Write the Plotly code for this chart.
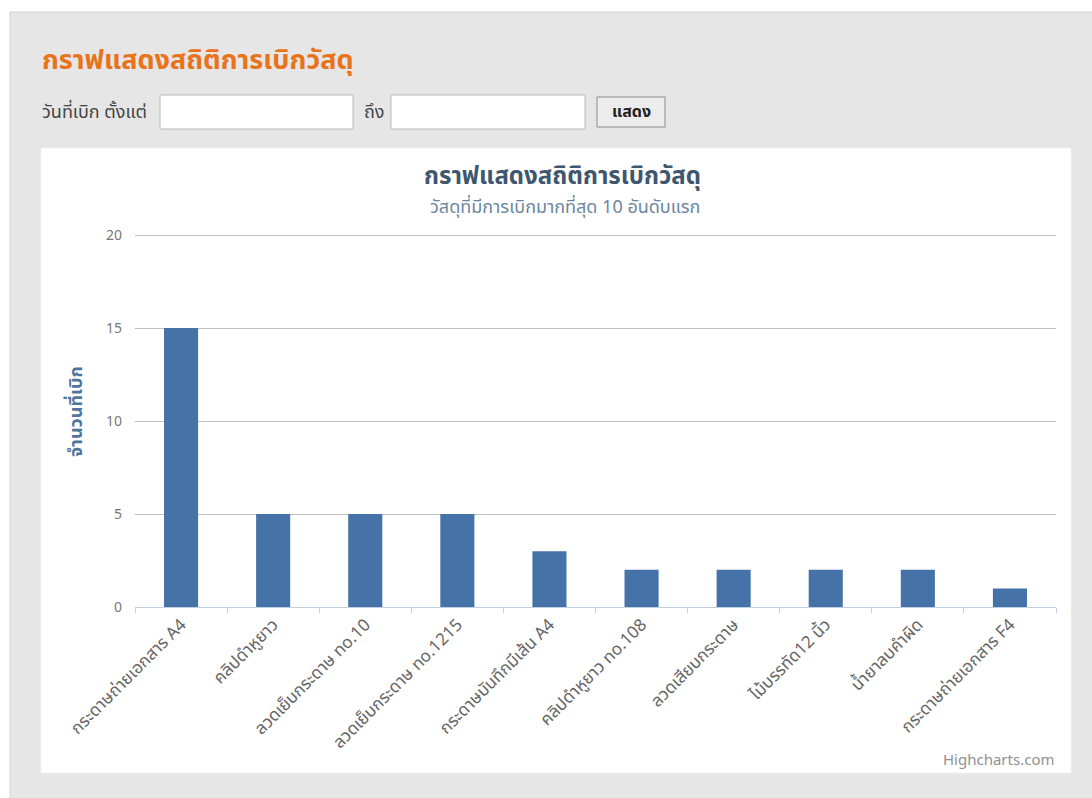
import plotly.graph_objects as go

# ---- data ----
categories = [
    "กระดาษถ่ายเอกสาร A4",
    "คลิปดำหูยาว",
    "ลวดเย็บกระดาษ no.10",
    "ลวดเย็บกระดาษ no.1215",
    "กระดาษบันทึกมีเส้น A4",
    "คลิปดำหูยาว no.108",
    "ลวดเสียบกระดาษ",
    "ไม้บรรทัด12 นิ้ว",
    "น้ำยาลบคำผิด",
    "กระดาษถ่ายเอกสาร F4",
]
values = [15, 5, 5, 5, 3, 2, 2, 2, 2, 1]
y_ticks = [0, 5, 10, 15, 20]

page_title = "กราฟแสดงสถิติการเบิกวัสดุ"
chart_title = "กราฟแสดงสถิติการเบิกวัสดุ"
chart_subtitle = "วัสดุที่มีการเบิกมากที่สุด 10 อันดับแรก"
y_title = "จำนวนที่เบิก"

W, H = 1092, 798
L, R, T, B = 135, 1056, 229, 607     # plot area in pixels (T leaves room above the 20 gridline)
Y20 = 235                            # pixel row of the 20 gridline
Y_MAX = 20 * (B - T) / (B - Y20)
FONT = "Tahoma, 'Noto Sans Thai', 'Noto Sans', sans-serif"


def px(x):
    return (x - L) / (R - L)


def py(y):
    return (B - y) / (B - T)


fig = go.Figure(
    go.Bar(
        x=categories,
        y=values,
        marker=dict(color="#4572A7", line=dict(width=0)),
        hoverinfo="x+y",
    )
)

shapes = [
    # page panel
    dict(type="rect", xref="paper", yref="paper", x0=px(10), x1=px(1100), y0=py(12), y1=py(810),
         fillcolor="#e6e6e6", line=dict(color="#d2d2d2", width=1), layer="below"),
    # white chart card
    dict(type="rect", xref="paper", yref="paper", x0=px(41), x1=px(1071), y0=py(148), y1=py(773),
         fillcolor="#ffffff", line=dict(color="#f0f0f0", width=1), layer="below"),
    # input boxes
    dict(type="rect", xref="paper", yref="paper", x0=px(160), x1=px(353), y0=py(95), y1=py(129),
         fillcolor="#ffffff", line=dict(color="#b8b8b8", width=1), layer="below"),
    dict(type="rect", xref="paper", yref="paper", x0=px(391), x1=px(585), y0=py(95), y1=py(129),
         fillcolor="#ffffff", line=dict(color="#b8b8b8", width=1), layer="below"),
    # button
    dict(type="rect", xref="paper", yref="paper", x0=px(597), x1=px(665), y0=py(97), y1=py(127),
         fillcolor="#ececec", line=dict(color="#8a8a8a", width=1), layer="below"),
]

annotations = [
    dict(text="<b>" + page_title + "</b>", x=px(40), y=py(60), xanchor="left", yanchor="middle",
         font=dict(family=FONT, size=27, color="#e8731a")),
    dict(text="วันที่เบิก ตั้งแต่", x=px(40), y=py(112), xanchor="left", yanchor="middle",
         font=dict(family=FONT, size=18, color="#444444")),
    dict(text="ถึง", x=px(362), y=py(112), xanchor="left", yanchor="middle",
         font=dict(family=FONT, size=18, color="#444444")),
    dict(text="<b>แสดง</b>", x=px(631), y=py(112), xanchor="center", yanchor="middle",
         font=dict(family=FONT, size=16, color="#222222")),
    dict(text="<b>" + chart_title + "</b>", x=px(562), y=py(177), xanchor="center", yanchor="middle",
         font=dict(family=FONT, size=24, color="#3E576F")),
    dict(text=chart_subtitle, x=px(565), y=py(207), xanchor="center", yanchor="middle",
         font=dict(family=FONT, size=18, color="#6D869F")),
    dict(text="<b>" + y_title + "</b>", x=px(76), y=py(412), xanchor="center", yanchor="middle",
         textangle=-90, font=dict(family=FONT, size=18, color="#4D759E")),
    dict(text="Highcharts.com", x=px(1056), y=py(760), xanchor="right", yanchor="middle",
         font=dict(family=FONT, size=15, color="#909090")),
]
for a in annotations:
    a.update(xref="paper", yref="paper", showarrow=False)

fig.update_layout(
    width=W,
    height=H,
    margin=dict(l=L, r=W - R, t=T, b=H - B, pad=0),
    paper_bgcolor="#ffffff",
    plot_bgcolor="rgba(0,0,0,0)",
    bargap=0.63,
    showlegend=False,
    shapes=shapes,
    annotations=annotations,
    font=dict(family=FONT, color="#666666"),
    xaxis=dict(
        type="category",
        tickangle=-45,
        tickson="boundaries",
        ticks="outside",
        ticklen=5,
        tickcolor="#C0D0E0",
        showgrid=False,
        showline=True,
        linecolor="#C0D0E0",
        linewidth=1,
        tickfont=dict(family=FONT, size=17, color="#666666"),
        fixedrange=True,
    ),
    yaxis=dict(
        range=[0, Y_MAX],
        tickvals=y_ticks,
        ticktext=[str(v) for v in y_ticks],
        showgrid=True,
        gridcolor="#C0C0C0",
        gridwidth=1,
        zeroline=False,
        showline=False,
        ticks="",
        ticklabelstandoff=12,
        tickfont=dict(family=FONT, size=14, color="#777777"),
        fixedrange=True,
    ),
)

fig.write_html("out.html", config={"displayModeBar": False})
